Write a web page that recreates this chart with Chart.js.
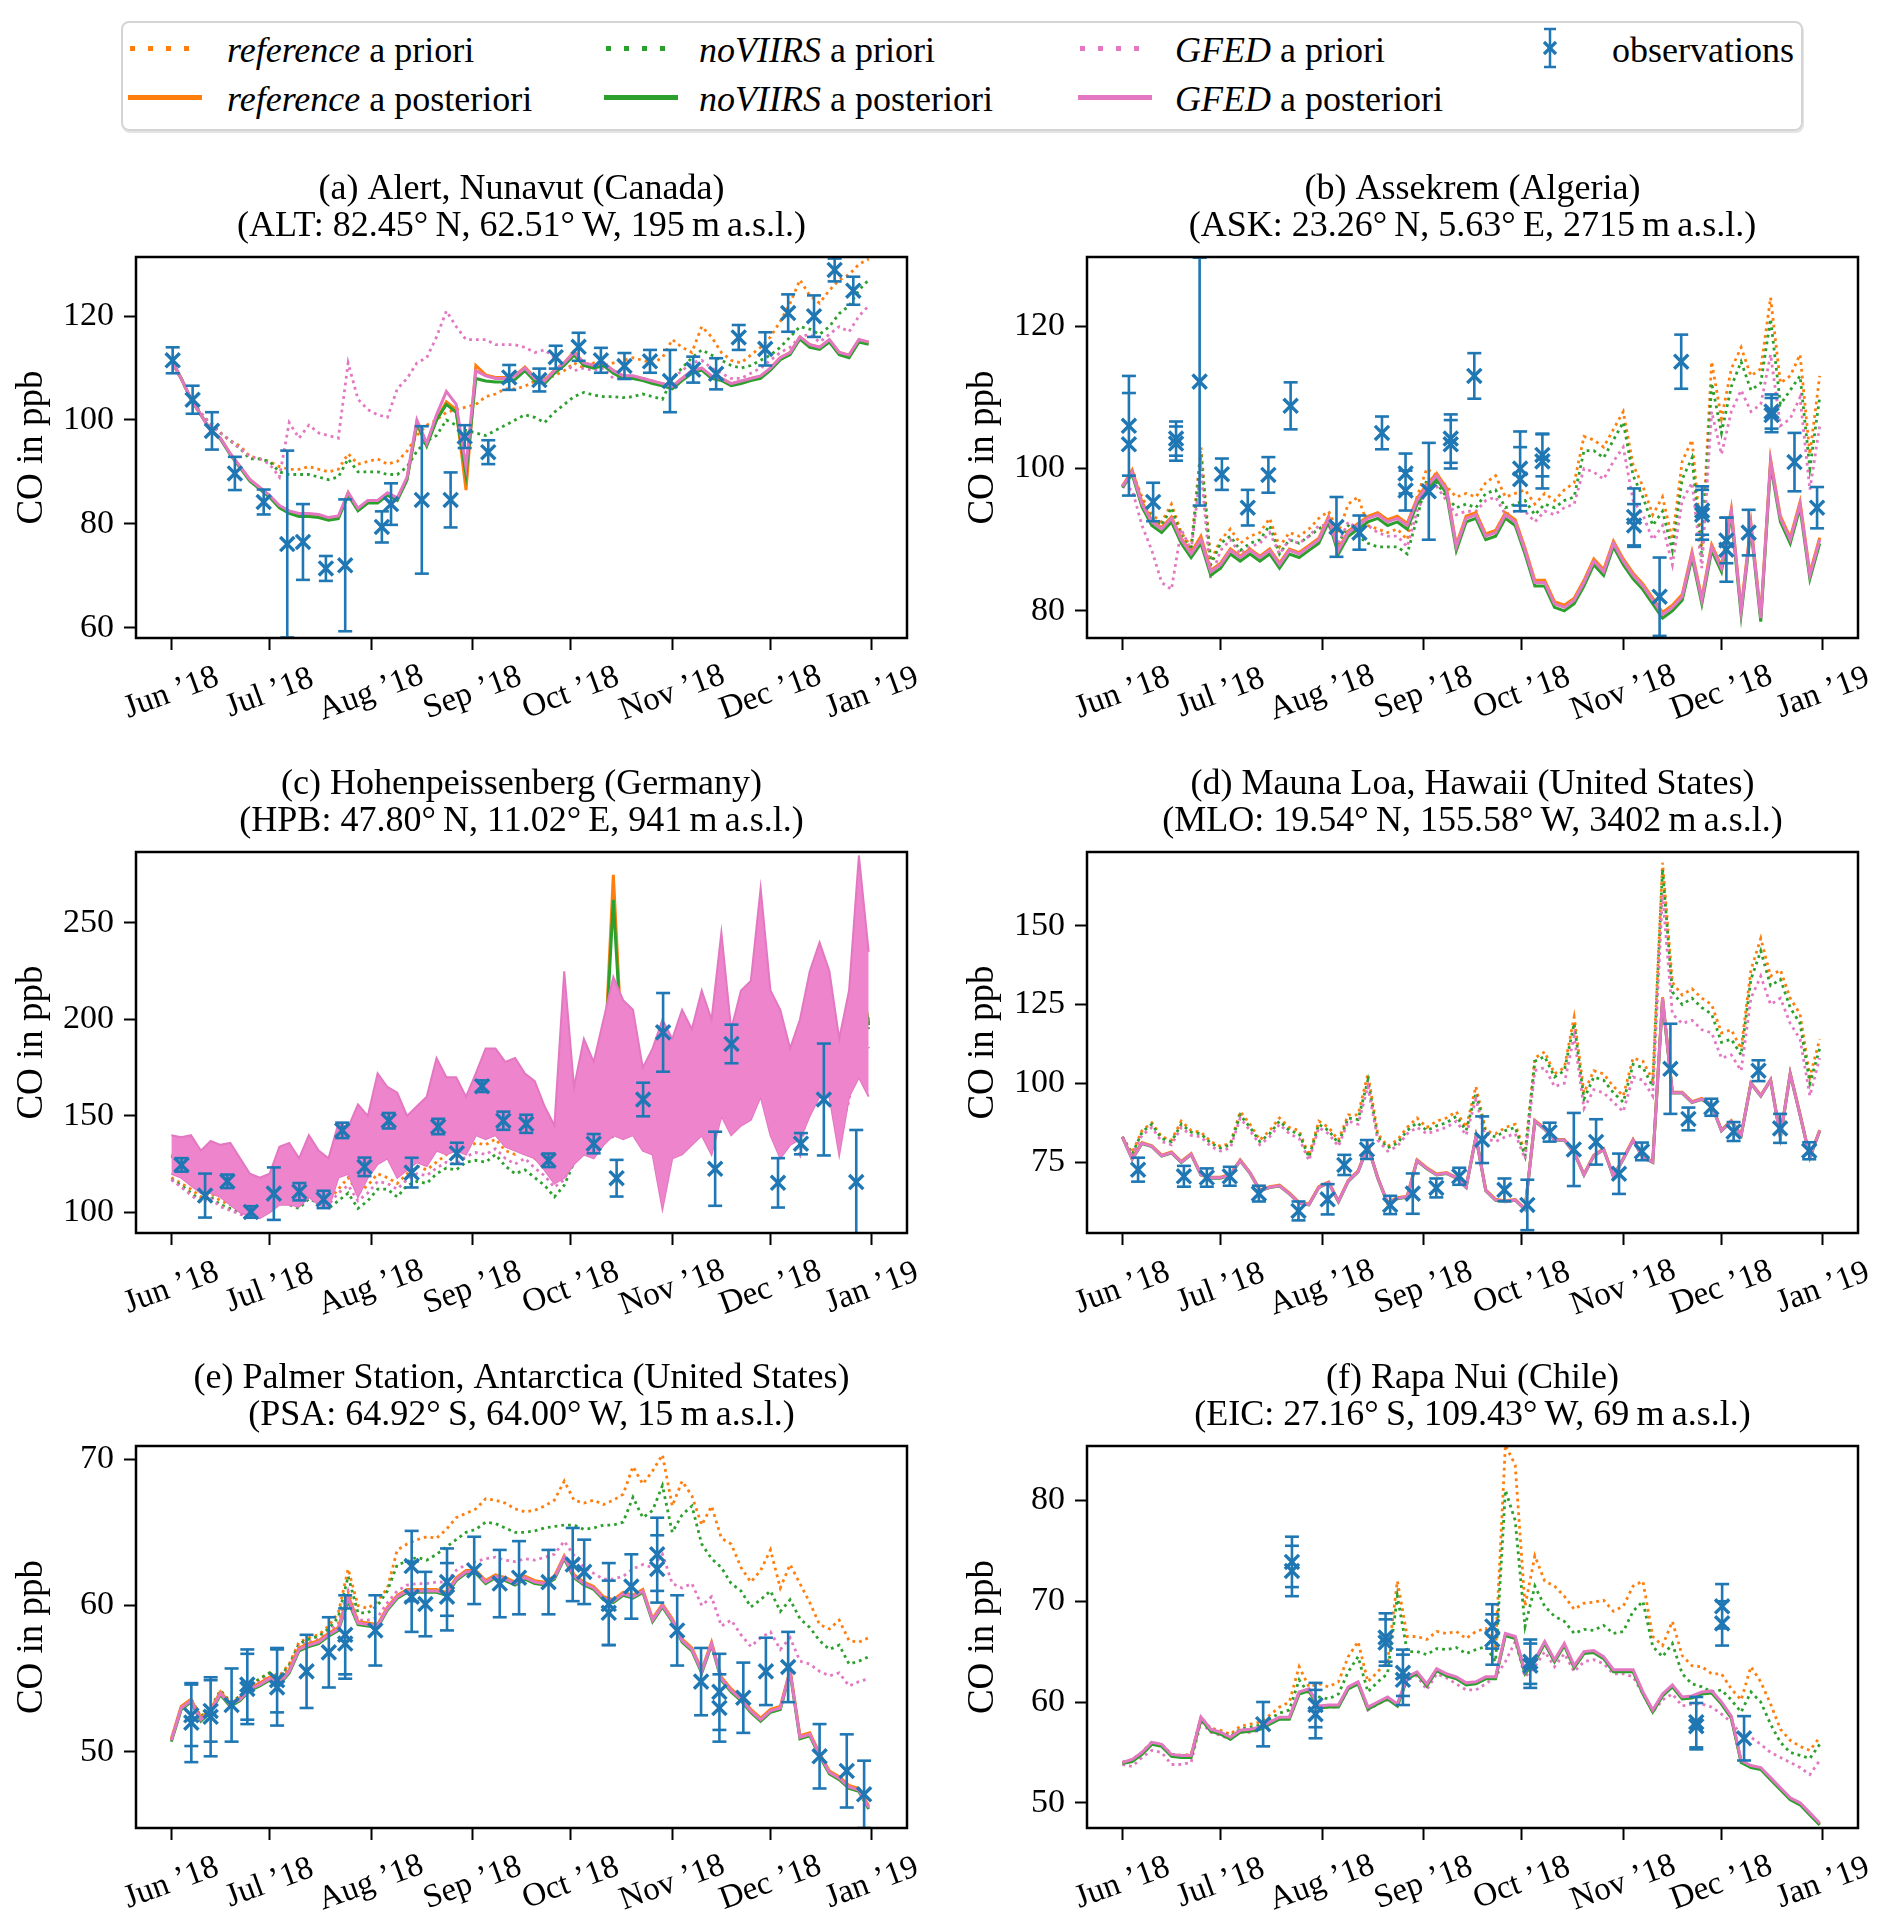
<!DOCTYPE html>
<html>
<head>
<meta charset="utf-8">
<script src="https://cdn.jsdelivr.net/npm/chart.js@4.4.1/dist/chart.umd.min.js"></script>
<style>
  body { margin: 0; width: 1892px; height: 1932px; background: #fff; position: relative; overflow: hidden; font-family: "Liberation Serif", serif; }
  canvas { position: absolute; }
  .lg { position: absolute; font-size: 36px; color: #000; transform: translateY(-50%); white-space: nowrap; line-height: 1; }
  .dot { position: absolute; height: 5px; margin-top: -2.5px; }
  .sol { position: absolute; height: 5px; margin-top: -2.5px; }
</style>
</head>
<body>

<div style="position:absolute;left:121px;top:21px;width:1682px;height:110px;border:2px solid #d4d4d4;border-radius:8px;box-sizing:border-box;box-shadow:1px 2px 0 #e4e4e4;"></div>

<div class="dot" style="left:130px;top:48px;width:72px;background:repeating-linear-gradient(to right,#ff7f0e 0 5px,transparent 5px 18px);"></div>
<div class="sol" style="left:128px;top:97px;width:74px;background:#ff7f0e;"></div>
<div class="lg" style="left:227px;top:50px;"><i>reference</i> a priori</div>
<div class="lg" style="left:227px;top:99px;"><i>reference</i> a posteriori</div>

<div class="dot" style="left:606px;top:48px;width:72px;background:repeating-linear-gradient(to right,#2ca02c 0 5px,transparent 5px 18px);"></div>
<div class="sol" style="left:604px;top:97px;width:74px;background:#2ca02c;"></div>
<div class="lg" style="left:699px;top:50px;"><i>noVIIRS</i> a priori</div>
<div class="lg" style="left:699px;top:99px;"><i>noVIIRS</i> a posteriori</div>

<div class="dot" style="left:1080px;top:48px;width:72px;background:repeating-linear-gradient(to right,#e377c2 0 5px,transparent 5px 18px);"></div>
<div class="sol" style="left:1078px;top:97px;width:74px;background:#e377c2;"></div>
<div class="lg" style="left:1175px;top:50px;"><i>GFED</i> a priori</div>
<div class="lg" style="left:1175px;top:99px;"><i>GFED</i> a posteriori</div>

<svg style="position:absolute;left:1538px;top:27px" width="24" height="42">
  <g stroke="#1f77b4" stroke-width="2.5" fill="none">
    <line x1="12" y1="2" x2="12" y2="40"/><line x1="6" y1="2" x2="18" y2="2"/><line x1="6" y1="40" x2="18" y2="40"/>
    <line x1="6" y1="15" x2="18" y2="27" stroke-width="3.2"/><line x1="18" y1="15" x2="6" y2="27" stroke-width="3.2"/>
  </g>
</svg>
<div class="lg" style="left:1612px;top:50px;">observations</div>

<canvas id="cA" width="946" height="593" style="left:0;top:140px"></canvas>
<canvas id="cB" width="941" height="593" style="left:951px;top:140px"></canvas>
<canvas id="cC" width="946" height="593" style="left:0;top:735px"></canvas>
<canvas id="cD" width="941" height="593" style="left:951px;top:735px"></canvas>
<canvas id="cE" width="946" height="594" style="left:0;top:1329px"></canvas>
<canvas id="cF" width="941" height="594" style="left:951px;top:1329px"></canvas>

<script>
// days since 1 Jun 2018, model output sampled every 3 days
const daysGrid = [0,3,6,9,12,15,18,21,24,27,30,33,
  36,39,42,45,48,51,54,57,60,63,66,69,
  72,75,78,81,84,87,90,93,96,99,102,105,
  108,111,114,117,120,123,126,129,132,135,138,141,
  144,147,150,153,156,159,162,165,168,171,174,177,
  180,183,186,189,192,195,198,201,204,207,210,213];
const monthDays = [0,30,61,92,122,153,183,214];
const monthLabels = ['Jun ’18','Jul ’18','Aug ’18','Sep ’18','Oct ’18','Nov ’18','Dec ’18','Jan ’19'];

// (a) Alert
const altRefPrior = [111.5,108,104,101,99,97.5,96,95,93,92.5,92,91,
  90.5,90.5,91,90.5,90,90.5,93.5,91.5,92,92.5,91.5,92,
  94,97,99,100,101.5,102,102.5,103,104.5,105,106,106,
  106.5,107.5,108,108.5,109.5,111,110,111,110.5,111,111.5,112,
  111.5,111,112,115.5,114,113,118,116,113,111.5,111,112.5,
  114,116,119,122.5,127,124,122.5,125,127,128,130,131];
const altRefPost = [111.5,108,104,101,98,96.5,93.5,91,88.5,87,85.3,83.3,
  82.2,81.7,81.7,81.5,81,81.2,86,82.8,84.3,84.3,85.8,84.8,
  88.8,99,95.5,100,103.5,102,86.5,110.5,108.7,108.2,108.2,108.6,
  110.2,108.2,107.6,109.6,111,113.2,111,110.5,111,109.5,108.5,108.4,
  108,107.4,107,106.4,108,109.4,110,108.4,108,107,107.4,108,
  108.4,110,112,113,116,114.5,114,115.4,113,112.5,115.4,115];
const altNovPrior = [111.5,108,104,101,99.5,97.5,96,94.5,92.5,92.5,92,90,
  89.5,89.5,89.5,89,88.5,89,92.5,90,90,90,89.5,89.5,
  91,94,96,97,100,99,98,97.5,97,98,99,100,
  101,100.5,99.5,101.5,103,104.5,105.3,104.8,104.5,104.5,104.3,104.5,
  105,104.5,104,108,110,112,113.5,112.5,111.5,110.5,110,110.5,
  111.5,112.5,114,116,118,117.5,116.5,118,120.5,122,125,127];
const altNovPost = [111.5,108,104,101,98,96.3,93.3,90.8,88.2,86.7,85.1,83.1,
  82,81.4,81.4,81.2,80.7,81,85.5,82.5,84,84,85.5,84.5,
  88.5,99.5,95,100,103,101.5,89.5,108,107.5,107.3,107.3,107.8,
  109.5,107.5,107,109,110.5,112.5,110.5,110,110.5,109,108,108,
  107.6,107,106.6,106,107.6,109,109.6,108,107.6,106.6,107,107.6,
  108,109.6,111.6,112.6,115.6,114,113.6,115,112.6,112,115,114.6];
const altGfedPrior = [111.5,108,104,101.5,99,97.5,96,94.5,93,92.5,91.5,89,
  99.5,96.5,99,97.5,97,96.5,111,104,102,101,100.5,106,
  108,111,112,116,121,118,115.5,115.5,115.5,114.5,114.5,114.5,
  114,113,113.5,112,111,109.5,110,109.5,110,108,108,108.5,
  108,107.5,106.5,108,109.5,111,111.5,110,109,108,108,109,
  110,111.5,113,114,116,116.5,115,116.5,118,117,120,122];
const altGfedPost = [111.5,108,104,101,98,96.5,93.5,91,88.5,87,85.5,83.5,
  82.5,82,82,81.8,81.2,81.5,86,83,84.5,84.5,86,85,
  89,100,95.5,101,105.5,103,91,109.5,108.5,108,108,108.5,
  110,108,107.5,109.5,111,113,111,110.5,111,109.5,108.5,108.5,
  108,107.5,107,106.5,108,109.5,110,108.5,108,107,107.5,108,
  108.5,110,112,113,116,114.5,114,115.5,113,112.5,115.5,115];
const altObsDay = [0.4,6.5,12.4,19.4,28.2,35.4,40.2,47.2,53.1,64.3,67.1,76.5,85.3,89.6,96.8,103.2,112.4,117.4,124.4,131.2,138.4,146.2,152.3,159.4,166.4,173.3,181.4,188.4,196.3,202.6,208.3];
const altObsVal = [111.5,103.9,97.9,89.7,84.2,76.1,76.5,71.4,72,79.4,83.8,84.6,84.6,96.8,93.8,108.2,107.7,112.1,114.1,111.5,110.4,111.3,107.5,109.7,108.9,115.9,113.7,120.6,120,128.9,124.9];
const altObsErr = [2.5,2.7,3.6,3.2,2.4,18,7.3,2.4,12.7,3,4,14.2,5.3,2.2,2.3,2.4,2.2,2.2,2.7,2.4,2.5,2.2,6,2.5,3,2.4,3.2,3.6,4,2.2,2.7];

// (b) Assekrem
const askRefPrior = [97.5,99.5,96,93.5,92.5,95,91,89,103,87,90,91.5,
  89.5,90.5,91,93,89,91,90.5,91.5,93,94,91,95,
  96,92,91.5,91,91.5,90,96,100,99,97.5,96,96.5,
  96,98,99,96,96.5,97,95,96.5,95.5,97,98,104.5,
  104,103,105.5,108,100.5,97.5,93.5,96,90,101,104,89,
  115,107,114,117,113,114,124,112,113,116,102,113];
const askRefPost = [97.5,99.8,95.3,92.7,91.7,93.2,90.2,88.2,90.5,85.7,86.7,88.7,
  87.7,88.7,87.7,88.7,86.7,88.7,88.2,89.2,90.2,93.3,88.7,91.2,
  92.3,93.3,93.8,92.8,93.3,92.3,95.8,97.8,99.3,97.3,89.3,93.3,
  93.8,90.8,91.3,93.8,92.8,88.8,84.3,84.3,81.3,80.8,81.8,84.3,
  87.3,85.8,89.8,87.3,85.3,83.8,81.8,79.8,80.8,82.3,88.3,81.8,
  89.3,86.3,94.3,80.3,92.3,79.3,101.3,93.3,90.3,95.3,85.3,90.3];
const askNovPrior = [97.5,99.5,95.5,93,92,94.5,90.5,88.5,102,86.5,89.5,90.5,
  88.5,89.5,90,92,88,90,89.5,90.5,91.5,92.5,89.5,92,
  90.5,89.5,89,89,89,88,93,98.5,98,96,94.5,95,
  94.5,96.5,97,94.5,95,95.5,93.5,95,94.5,95.5,96,102.5,
  102.5,101.5,104,106.5,99,96,92,94,88.5,98.5,101.5,87.5,
  112,105,111.5,115,111,112,121,109,111,113,100,110];
const askNovPost = [97.3,99.2,94.6,92,91,92.5,89.5,87.5,89.5,85,86,88,
  87,88,87,88,86,88,87.5,88.5,89.5,92.5,88,90.5,
  91.5,92.5,93,92,92.5,91.5,95,97,98.5,96.5,88.5,92.5,
  93,90,90.5,93,92,88,83.5,83.5,80.5,80,81,83.5,
  86.5,85,89,86.5,84.5,83,81,79,80,81.5,87.5,81,
  88.5,85.5,93.5,79.5,91.5,78.5,100.5,92.5,89.5,94.5,84.5,89.5];
const askGfedPrior = [97.5,97,92,88.5,84,83,91.5,88.5,100,84.5,88.5,90,
  88,89,89.5,91,88,90,89.5,90.5,92,92,89.5,92.5,
  91.5,92,91,90.5,90.5,89,94,97,97.5,95.5,93.5,94,
  94,95.5,96,93.5,94,94,92.5,94,93.5,94.5,95,100,
  99.5,98.5,101,103,95.5,93.5,90,92,86.5,95.5,98,86,
  108,102,108,111,108,109,116,106,107,110,97,106];
const askGfedPost = [97.5,99.5,95,92.5,91.5,93,90,88,90,85.5,86.5,88.5,
  87.5,88.5,87.5,88.5,86.5,88.5,88,89,90,93,88.5,91,
  92,93,93.5,92.5,93,92,95.5,97.5,99,97,89,93,
  93.5,90.5,91,93.5,92.5,88.5,84,84,81,80.5,81.5,84,
  87,85.5,89.5,87,85,83.5,81.5,79.5,80.5,82,88,81.5,
  89,86,94,80,92,79,101,93,90,95,85,90];
const askObsDay = [2,2,9.4,16.4,16.4,23.6,30.4,38.3,44.6,51.4,65.4,72.4,79.3,86.5,86.5,93.6,100.3,100.3,107.5,121.5,121.5,128.3,128.3,156.3,156.3,164.1,170.7,177.1,177.1,184.5,184.5,191.3,198.3,198.3,205.3,212.2];
const askObsVal = [106,103.4,95.3,104.2,103.5,112.2,99.2,94.5,99.1,108.8,91.8,91,105,99.3,96.9,96.8,104.2,103.4,113,100,98.5,101,101.9,93.2,92,82,115,94.1,93.5,88.6,89.9,91,108,107.5,100.9,94.5];
const askObsErr = [7,7.2,2.7,2.4,2.4,17.4,2.2,2.5,2.5,3.3,4.2,2.4,2.3,2.8,2.8,6.8,3.4,3.4,3.2,5.2,4.5,3.8,3,4,3,5.5,3.8,3.4,3.5,4.5,3.2,3.2,2.4,2.4,4.1,2.9];

// (c) Hohenpeissenberg (GFED a posteriori drawn as the envelope of its diurnal cycle)
const hpbRefPrior = [118,115,112,108,110,106,104,102,100,101,104,108,
  106,104,110,108,106,112,118,110,114,120,118,115,
  120,124,122,126,130,128,133,136,135,138,132,130,
  133,128,124,118,122,135,142,140,165,150,165,152,
  145,150,130,148,152,160,155,150,175,160,165,170,
  190,165,145,150,140,175,200,185,150,170,215,200];
const hpbRefPost = [130,128,126,121,123,121,120,114,109,107,110,119,
  120,115,124,118,115,132,132,132,134,148,146,140,
  136,140,142,156,150,151,145,156,161,162,156,156,
  151,148,138,130,170,145,160,153,167,275,174,172,
  154,158,151,159,168,165,178,165,198,168,180,184,
  214,178,166,160,169,188,200,192,160,188,228,198];
const hpbNovPrior = [117,114,110,106,108,104,102,100,98,99,102,106,
  104,102,107,105,102,106,110,102,106,112,112,108,
  114,116,115,120,123,122,126,127,126,130,124,120,
  122,118,114,108,114,126,135,134,160,145,160,150,
  140,146,125,142,148,155,150,145,170,155,160,165,
  185,160,140,145,135,170,195,180,145,165,210,195];
const hpbNovPost = [129,127,125,120,122,120,119,113,108,106,109,118,
  119,114,123,117,114,131,131,131,133,147,145,139,
  135,139,141,155,149,150,144,155,160,161,155,155,
  150,147,137,129,169,144,159,152,166,262,173,171,
  153,157,150,158,167,164,177,164,197,167,179,183,
  213,177,165,159,168,187,199,191,159,187,227,197];
const hpbGfedPrior = [117,113,109,105,107,103,101,99,98,99,102,106,
  104,103,108,106,104,110,114,106,110,116,115,112,
  117,120,119,123,126,125,129,131,130,133,128,125,
  128,123,119,113,117,128,134,132,155,138,150,140,
  134,140,120,135,140,148,143,138,162,148,152,158,
  178,152,134,140,130,162,185,172,140,158,200,185];
const hpbGfedPostHi = [140,139,140,132,137,135,136,128,120,118,120,134,
  136,128,140,132,128,146,144,156,150,172,165,162,
  150,155,160,180,170,170,160,172,185,185,178,180,
  172,168,155,145,225,165,190,178,200,222,210,205,
  175,185,200,190,205,195,215,200,245,195,215,220,
  268,215,205,185,200,225,240,225,190,215,285,235];
const hpbGfedPostLo = [120,118,114,110,110,108,104,100,98,97,100,104,
  104,103,108,104,102,118,120,108,118,125,128,118,
  122,126,124,132,130,132,130,140,138,140,134,132,
  130,128,122,115,118,125,130,128,135,140,138,140,
  132,130,102,128,130,135,140,130,150,140,145,148,
  160,140,128,135,138,150,160,160,130,160,170,160];
const hpbObsDay = [3.1,10.3,17.1,24.3,31.3,39.1,46.5,52.2,59,66.4,73.4,81.5,87.2,94.9,101.4,108.4,115.2,129,136,144.1,150.2,166.1,171.1,185.3,192.3,199.3,209.2];
const hpbObsVal = [124.6,108.7,116.1,100.2,109.7,110.7,106.7,142.5,123.6,147.5,120.6,144.5,130.6,165.4,147.5,145.9,127,135.6,117.7,158.5,193.3,122.6,187.3,115.3,135.6,158.5,115.7];
const hpbObsErr = [3.5,11.4,3.5,3,13.6,4.5,4.5,4,4.8,4,7.7,4,5.5,3,4.7,4.7,3.5,5,9.5,8.7,20.4,19.2,10,12.8,5.5,29,27];

// (d) Mauna Loa
const mloRefPrior = [83,78,85,87.5,83,82,88,85,84.5,81.5,80,81,
  91,87,82,85,89,86,85,77,88,86,82,90,
  90,103,84,80,82,86,89,86,88,89,91,86,
  99,85,84,86,87,78,108,110,103,105,121,97,
  104,103,99,96,108,107,101,170,132,128,130,127,
  125,116,117,111,136,146,134,136,127,122,102,114];
const mloRefPost = [83,76.2,81.2,80.2,77.2,78.2,75.2,77.7,71.2,70.2,70.2,71.2,
  75.7,71.7,66.2,67.2,67.7,65.2,62.2,61.7,67.2,68.7,62.7,69.2,
  72.2,80.2,70.2,62.2,63.7,64.2,75.7,73.2,71.2,71.7,70.2,67.2,
  83.2,66.2,63.2,62.7,63.2,60.2,88.2,85.7,82.2,82.2,78.2,71.2,
  77.2,79.2,70.7,76.2,82.2,76.7,75.2,127.3,97.2,97.2,94.2,95.2,
  93.2,85.2,88.2,83.7,100.2,96.2,101.2,83.2,103.2,90.2,76.7,85.2];
const mloNovPrior = [83,77.5,84.5,87,82.5,81.5,87,84.5,84,81,79.5,80.5,
  90,86,81.5,84,88,85,84,76.5,87,85,81,89,
  88.5,101,83,79.5,81,85,87.5,85,86.5,87.5,89.5,85,
  97,84,83,85,86,77,107,108.5,102,104,119,95,
  102,101,97,94,106,105,99,168,129,125,127,124,
  122,113,114,109,133,142,131,133,124,119,100,111];
const mloNovPost = [83,75.9,80.9,79.9,76.9,77.9,74.9,77.4,70.9,69.9,69.9,70.9,
  75.4,71.4,65.9,66.9,67.4,64.9,61.9,61.4,66.9,68.4,62.4,68.9,
  71.9,79.9,69.9,61.9,63.4,63.9,75.4,72.9,70.9,71.4,69.9,66.9,
  82.9,65.9,62.9,62.4,62.9,59.9,87.9,85.4,81.9,81.9,77.9,70.9,
  76.9,78.9,70.4,75.9,81.9,76.4,74.9,126.5,96.9,96.9,93.9,94.9,
  92.9,84.9,87.9,83.4,99.9,95.9,100.9,82.9,102.9,89.9,76.4,84.9];
const mloGfedPrior = [83,77,83.5,86,81.5,80.5,86,83.5,83,80,78.5,79.5,
  89,85,80.5,83,87,84,82.5,75.5,86,84,80,88,
  87,99,82,78.5,80,84,86,84,85,86,88,83.5,
  95,82.5,81.5,83,84,76,104,105,99,100,115,92,
  98,97,94,91,102,101,96,160,122,119,120,117,
  116,108,109,104,127,134,125,127,119,114,96,108];
const mloGfedPost = [83,76,81,80,77,78,75,77.5,71,70,70,71,
  75.5,71.5,66,67,67.5,65,62,61.5,67,68.5,62.5,69,
  72,80,70,62,63.5,64,75.5,73,71,71.5,70,67,
  83,66,63,62.5,63,60,88,85.5,82,82,78,71,
  77,79,70.5,76,82,76.5,75,127,97,97,94,95,
  93,85,88,83.5,100,96,101,83,103,90,76.5,85];
const mloObsDay = [4.8,18.8,25.8,32.8,41.7,53.8,62.7,67.8,74.7,81.8,88.7,95.9,102.9,109.9,116.7,123.7,130.5,137.9,144.7,151.7,158.7,167.4,172.9,179.9,186.7,194.3,200.9,209.8];
const mloObsVal = [72.6,70.5,70.1,70.5,65,59.5,63.2,74.1,79,61.4,65,66.8,70.5,82.1,66.2,61.4,84.5,79,81.4,71.3,78.4,104.6,88.7,92.4,84.7,104,85.7,78.6];
const mloObsErr = [3.8,3.3,2.9,3,2.5,3,4.8,3.2,3,2.9,6.4,3,2.7,7.4,3.6,8,3,11.6,7.2,6.4,2.8,14.3,3.6,2.7,3,3.3,4.6,2.7];

// (e) Palmer Station
const psaRefPrior = [50.8,53,53.6,52.4,53,54.2,53.4,53.8,54.5,55,55.4,55.2,
  56,57.5,57.8,58,58.6,59.5,62.5,60,59.8,60.3,61.2,63.8,
  64.2,64.5,64.7,64.6,65.2,66,66.3,66.6,67.3,67.2,67,66.6,
  66.4,66.5,66.8,67.2,68.5,67.2,67,67.2,66.9,67.2,67.6,69.5,
  68.3,69.2,70.3,66.8,68.5,67.5,65.5,66.8,64.6,64.2,62.6,61.6,
  62.4,63.8,61.2,62.8,61.5,60.2,58.7,58.4,59,57.6,57.5,57.8];
const psaRefPost = [50.9,53.1,53.6,52.3,52.9,54.1,53.3,53.7,54.4,54.7,55.1,54.8,
  55.6,57.1,57.4,57.6,58.1,58.5,60.7,58.9,58.8,58.7,59.9,60.7,
  61.1,61.1,61.1,61.1,60.9,61.9,62.4,62.4,61.7,62.1,61.9,61.6,
  62,61.7,61.6,62,63.4,62.1,61.6,61.3,60.6,60.4,60.9,60.7,
  61.1,59.1,60.1,59.1,57.7,57.1,55.6,57.5,55.1,54.3,53.7,52.9,
  52.3,52.9,53.1,55.6,51.1,51.3,49.9,48.7,48.3,47.7,47.5,46.3];
const psaNovPrior = [50.8,53,53.6,52.4,53,54.2,53.4,53.8,54.5,55,55.4,55.1,
  55.9,57.4,57.7,57.9,58.4,59.2,62,59.5,59.5,60,61,62.8,
  63,63.3,63.1,63.5,64,64.5,65,65.2,65.7,65.6,65.3,65,
  65,65.1,65.3,65.4,65.5,65.5,65.2,65.3,65.5,65.5,65.7,67.4,
  66,66.5,68.2,65,66.2,66.8,64.2,63.2,62.6,61.5,61,59.9,
  60.4,61,59.6,60.4,59.1,58.5,57.6,57,57.3,56,56.2,56.5];
const psaNovPost = [50.7,52.9,53.4,52.1,52.7,53.9,53.1,53.5,54.2,54.5,54.9,54.6,
  55.4,56.9,57.2,57.4,57.9,58.3,60.3,58.7,58.6,58.5,59.7,60.5,
  60.9,60.9,60.9,60.9,60.7,61.7,62.2,62.2,61.5,61.9,61.7,61.4,
  61.8,61.5,61.4,61.8,63.2,61.9,61.4,61.1,60.4,60.2,60.7,60.5,
  60.9,58.9,59.9,58.9,57.5,56.9,55.4,57.3,54.9,54.1,53.5,52.7,
  52.1,52.7,52.9,55.4,50.9,51.1,49.7,48.5,48.1,47.5,47.3,46.1];
const psaGfedPrior = [50.8,53,53.5,52.3,52.9,54.1,53.3,53.7,54.4,54.8,55.2,54.9,
  55.7,57.2,57.5,57.7,58.2,58.8,61,59,59,59.2,60.2,61,
  61.4,61.5,61.5,61.6,61.6,62.4,62.8,63,63.2,63.3,63.1,63,
  63.2,63.1,63.3,63.5,64.4,63.4,62.6,62.2,61.8,61.8,62,62.5,
  62.8,62.6,63.5,61.5,61.2,61.5,60,60.6,58.6,59,58,57.2,
  57.8,58.2,57,57.8,56.2,56,55.5,55.2,55.4,54.5,54.8,55];
const psaGfedPost = [50.8,53,53.5,52.2,52.8,54,53.2,53.6,54.3,54.6,55,54.7,
  55.5,57,57.3,57.5,58,58.4,60.5,58.8,58.7,58.6,59.8,60.6,
  61,61,61,61,60.8,61.8,62.3,62.3,61.6,62,61.8,61.5,
  61.9,61.6,61.5,61.9,63.3,62,61.5,61.2,60.5,60.3,60.8,60.6,
  61,59,60,59,57.6,57,55.5,57.4,55,54.2,53.6,52.8,
  52.2,52.8,53,55.5,51,51.2,49.8,48.6,48.2,47.6,47.4,46.2];
const psaObsDay = [6.1,6.1,12,12,18.4,23.2,23.2,32.3,32.3,41.3,48.1,53.1,53.1,62.3,73.4,73.4,77.6,84.2,84.2,92.5,100.3,106.2,115.2,122.6,126.1,133.6,133.6,140.5,148.4,148.4,154.5,161.8,167.4,167.4,174.7,181.6,188.4,198,206.3,211.6];
const psaObsVal = [52,52.5,52.4,52.8,53.2,54.6,54.3,54.4,54.9,55.5,56.8,58,57.4,58.3,62.7,60.6,60.1,61.6,60.6,62.4,61.5,61.9,61.6,62.8,62.3,60.1,59.5,61.3,63.5,62.5,58.3,54.8,54.1,53,53.7,55.5,55.8,49.7,48.7,47.1];
const psaObsErr = [2.7,2.1,2.7,2.1,2.5,2.4,2.4,2.6,2.2,2.5,2.4,2.7,2.4,2.4,2.4,2.4,2.2,2.3,2.3,2.3,2.3,2.5,2.2,2.5,2.2,2.8,2.2,2.2,2.5,2.3,2.4,2.3,2.6,2.3,2.4,2.3,2.4,2.2,2.5,2.3];

// (f) Rapa Nui
const eicRefPrior = [54,54.3,55,56,55.8,54.8,54.7,54.8,58.5,57.4,57.2,56.8,
  57.6,57.8,58,58.7,59.5,60,63.5,61.5,61.8,61.5,62,64.5,
  66,62,63,64,72,66.5,66.5,66.2,67,66.8,67,66.3,
  67,67.3,65.5,85.5,83.5,69.5,74.5,72,71.5,70.5,69.2,69.8,
  69.9,70.1,69,69.5,71.5,72,66.5,65.6,68,64.6,63.6,63.5,
  62.8,62.8,61.3,60.2,63.5,62,59.8,57.3,56.2,55.6,55.2,56.5];
const eicRefPost = [54,54.2,54.9,55.9,55.7,54.7,54.6,54.6,58.4,57.2,56.9,56.4,
  57.1,57.2,57.4,57.9,58.4,58.4,60.9,61.2,59.5,59.6,59.6,61.4,
  61.9,59.4,59.9,60.4,59.7,62.4,62.9,61.7,63.2,62.7,62.4,61.8,
  61.9,62.4,62.4,66.7,66.4,62.9,64.1,65.9,64.1,65.7,63.5,64.9,
  65,64.4,63.1,63.1,63.1,60.9,59.1,60.7,61.6,60.4,60.5,60.9,
  61,59.9,58.5,54.1,53.6,53.4,52.4,51.4,50.4,49.9,48.9,47.9];
const eicNovPrior = [54,54.2,55,56,55.8,54.8,54.7,54.7,58.4,57.3,57,56.6,
  57.3,57.5,57.7,58.3,58.9,59.2,62.2,60.8,60.5,60.3,60.8,63,
  64.5,61,62,62.8,70.5,65,65,64.7,65.3,65.2,65.4,64.8,
  65.2,65.5,64,81,78,67.5,71.5,69.5,68.5,68,66.8,67.2,
  67.1,67.6,66.8,67,69,70,65.5,64.5,65.8,62.8,61.8,61.5,
  61,61.2,60.2,59,61,60,57.8,56,55,54.7,54.4,55.8];
const eicNovPost = [53.9,54.1,54.8,55.8,55.6,54.6,54.5,54.5,58.3,57.1,56.8,56.3,
  57,57.1,57.3,57.8,58.3,58.3,60.8,61.1,59.4,59.5,59.5,61.3,
  61.8,59.3,59.8,60.3,59.6,62.3,62.8,61.6,63.1,62.6,62.3,61.7,
  61.8,62.3,62.3,66.6,66.3,62.8,64,65.8,64,65.6,63.4,64.8,
  64.9,64.3,63,63,63,60.8,59,60.6,61.5,60.3,60.4,60.8,
  60.9,59.8,58.4,54,53.5,53.3,52.3,51.3,50.3,49.8,48.8,47.8];
const eicGfedPrior = [53.8,53.6,54.5,55.2,55,53.8,53.8,54,58,57,56.7,56.3,
  57,57,57.2,57.8,58.3,58.4,61,61,59.4,59.5,59.5,61.3,
  62,59.2,59.8,60.2,59.8,62.2,62.6,61.2,62.8,62.4,61.8,61.2,
  61.2,61.8,62.5,64,66,62.5,63.5,65,63.5,64.8,63,64,
  64.2,63.8,62.8,62.8,62.5,60.8,59,60.2,60.8,59.6,59.8,59.8,
  59.5,58.8,58,56.8,56.5,55.8,55,54.5,54,53.5,52.8,54.2];
const eicGfedPost = [54,54.3,55,56,55.8,54.8,54.7,54.7,58.5,57.3,57,56.5,
  57.2,57.3,57.5,58,58.5,58.5,61,61.3,59.6,59.7,59.7,61.5,
  62,59.5,60,60.5,59.8,62.5,63,61.8,63.3,62.8,62.5,61.9,
  62,62.5,62.5,66.8,66.5,63,64.2,66,64.2,65.8,63.6,65,
  65.1,64.5,63.2,63.2,63.2,61,59.2,60.8,61.7,60.5,60.6,61,
  61.1,60,58.6,54.2,53.7,53.5,52.5,51.5,50.5,50,49,48];
const eicObsDay = [43,51.8,51.8,59,59,80.4,80.4,85.7,85.7,113,113,124.6,124.6,175.3,175.3,183.2,183.2,189.9];
const eicObsVal = [57.8,73.9,73,59.7,58.8,66.4,65.9,62.9,62.2,67.5,66.2,64,63.6,58,57.6,69.5,67.8,56.4];
const eicObsErr = [2.2,2.5,2.5,2.2,2.4,2.4,2.3,2.3,2.5,2.2,2.5,2.2,2.2,2.5,2.3,2.2,2.2,2.2];

const ORANGE = '#ff7f0e', GREEN = '#2ca02c', PINK = '#e377c2', BLUE = '#1f77b4';
const FONT = '"Liberation Serif", serif';
Chart.defaults.font.family = FONT;
Chart.defaults.color = '#000';

const frame = {
  id: 'frame',
  afterDatasetsDraw(chart) {
    const a = chart.chartArea, ctx = chart.ctx;
    ctx.save();
    ctx.strokeStyle = '#000';
    ctx.lineWidth = 2.5;
    ctx.strokeRect(a.left, a.top, a.right - a.left, a.bottom - a.top);
    ctx.restore();
  }
};

// panel title above the axes and centred, rotated month labels
const panelText = {
  id: 'panelText',
  afterDraw(chart, args, opts) {
    const a = chart.chartArea, ctx = chart.ctx, xs = chart.scales.x;
    ctx.save();
    ctx.fillStyle = '#000';
    ctx.textAlign = 'center';
    ctx.textBaseline = 'middle';
    ctx.font = '36px ' + FONT;
    const mid = (a.left + a.right) / 2;
    ctx.fillText(opts.title[0], mid, a.top - 67);
    ctx.fillText(opts.title[1], mid, a.top - 30);
    ctx.font = '33px ' + FONT;
    monthDays.forEach((d, i) => {
      ctx.save();
      ctx.translate(xs.getPixelForValue(d), a.bottom + 55);
      ctx.rotate(-20 * Math.PI / 180);
      ctx.fillText(monthLabels[i], 0, 0);
      ctx.restore();
    });
    ctx.restore();
  }
};

function makePanel(id, p) {
  const pts = vals => daysGrid.map((d, i) => ({x: d, y: vals[i]}));
  const line = (vals, color, dotted, order) => ({
    data: pts(vals), borderColor: color, borderWidth: dotted ? 2.8 : 3,
    borderDash: dotted ? [2.8, 4] : [], pointRadius: 0, fill: false, order: order, clip: 0
  });

  const bars = [], caps = [], marks = [];
  p.obsDay.forEach((d, i) => {
    const lo = p.obsVal[i] - p.obsErr[i];
    const hi = p.obsVal[i] + p.obsErr[i];
    bars.push({x: d, y: lo}, {x: d, y: hi}, {x: d, y: null});
    caps.push({x: d, y: lo}, {x: d, y: hi});
    marks.push({x: d, y: p.obsVal[i]});
  });

  const datasets = [
    line(p.refPrior, ORANGE, true, 6),
    line(p.novPrior, GREEN, true, 5),
    line(p.gfedPrior, PINK, true, 4),
    line(p.refPost, ORANGE, false, 3),
    line(p.novPost, GREEN, false, 2)
  ];
  if (p.gfedPostHi) {
    datasets.push({data: pts(p.gfedPostHi), borderColor: PINK, borderWidth: 2, pointRadius: 0,
      backgroundColor: '#ee84cb', fill: '+1', order: 1, clip: 0});
    datasets.push({data: pts(p.gfedPostLo), borderColor: PINK, borderWidth: 2, pointRadius: 0,
      fill: false, order: 1, clip: 0});
  } else {
    datasets.push(line(p.gfedPost, PINK, false, 1));
  }
  datasets.push(
    {data: bars, borderColor: BLUE, borderWidth: 2.6, pointRadius: 0, spanGaps: false, order: 0, clip: 0},
    {data: caps, showLine: false, pointStyle: 'line', pointRadius: 7, pointBorderColor: BLUE,
      pointBorderWidth: 2.6, order: 0, clip: 0},
    {data: marks, showLine: false, pointStyle: 'crossRot', pointRadius: 10, pointBorderColor: BLUE,
      pointBorderWidth: 3.4, order: 0, clip: 0}
  );

  new Chart(document.getElementById(id), {
    type: 'line',
    data: {datasets: datasets},
    plugins: [frame, panelText],
    options: {
      responsive: false,
      animation: false,
      events: [],
      layout: {padding: {top: 117, right: p.right, left: 0, bottom: 0}},
      plugins: {legend: {display: false}, tooltip: {enabled: false}, panelText: {title: p.title}},
      scales: {
        x: {
          type: 'linear', min: -10.8, max: 224.7,
          afterBuildTicks: s => { s.ticks = monthDays.map(v => ({value: v})); },
          afterFit: s => { s.height = 95; },
          ticks: {display: false},
          grid: {drawOnChartArea: false, drawTicks: true, tickLength: 12, tickWidth: 2, tickColor: '#000'},
          border: {display: false}
        },
        y: {
          min: p.yMin, max: p.yMax,
          afterBuildTicks: s => { s.ticks = p.yTicks.map(v => ({value: v})); },
          afterFit: s => { s.width = 136; },
          ticks: {font: {size: 34}, color: '#000', padding: 10},
          grid: {drawOnChartArea: false, drawTicks: true, tickLength: 12, tickWidth: 2, tickColor: '#000'},
          border: {display: false},
          title: {display: true, text: 'CO in ppb', font: {size: 37}, color: '#000', padding: {top: 10, bottom: 0}}
        }
      }
    }
  });
}

makePanel('cA', {
  title: ['(a) Alert, Nunavut (Canada)', '(ALT: 82.45°\u2009N, 62.51°\u2009W, 195\u2009m\u2009a.s.l.)'],
  yMin: 58, yMax: 131.4, yTicks: [60, 80, 100, 120], right: 39,
  refPrior: altRefPrior, refPost: altRefPost, novPrior: altNovPrior, novPost: altNovPost,
  gfedPrior: altGfedPrior, gfedPost: altGfedPost,
  obsDay: altObsDay, obsVal: altObsVal, obsErr: altObsErr
});
makePanel('cB', {
  title: ['(b) Assekrem (Algeria)', '(ASK: 23.26°\u2009N, 5.63°\u2009E, 2715\u2009m\u2009a.s.l.)'],
  yMin: 76.2, yMax: 129.7, yTicks: [80, 100, 120], right: 34,
  refPrior: askRefPrior, refPost: askRefPost, novPrior: askNovPrior, novPost: askNovPost,
  gfedPrior: askGfedPrior, gfedPost: askGfedPost,
  obsDay: askObsDay, obsVal: askObsVal, obsErr: askObsErr
});
makePanel('cC', {
  title: ['(c) Hohenpeissenberg (Germany)', '(HPB: 47.80°\u2009N, 11.02°\u2009E, 941\u2009m\u2009a.s.l.)'],
  yMin: 89.3, yMax: 286.8, yTicks: [100, 150, 200, 250], right: 39,
  refPrior: hpbRefPrior, refPost: hpbRefPost, novPrior: hpbNovPrior, novPost: hpbNovPost,
  gfedPrior: hpbGfedPrior, gfedPostHi: hpbGfedPostHi, gfedPostLo: hpbGfedPostLo,
  obsDay: hpbObsDay, obsVal: hpbObsVal, obsErr: hpbObsErr
});
makePanel('cD', {
  title: ['(d) Mauna Loa, Hawaii (United States)', '(MLO: 19.54°\u2009N, 155.58°\u2009W, 3402\u2009m\u2009a.s.l.)'],
  yMin: 52.5, yMax: 173.4, yTicks: [75, 100, 125, 150], right: 34,
  refPrior: mloRefPrior, refPost: mloRefPost, novPrior: mloNovPrior, novPost: mloNovPost,
  gfedPrior: mloGfedPrior, gfedPost: mloGfedPost,
  obsDay: mloObsDay, obsVal: mloObsVal, obsErr: mloObsErr
});
makePanel('cE', {
  title: ['(e) Palmer Station, Antarctica (United States)', '(PSA: 64.92°\u2009S, 64.00°\u2009W, 15\u2009m\u2009a.s.l.)'],
  yMin: 44.8, yMax: 70.9, yTicks: [50, 60, 70], right: 39,
  refPrior: psaRefPrior, refPost: psaRefPost, novPrior: psaNovPrior, novPost: psaNovPost,
  gfedPrior: psaGfedPrior, gfedPost: psaGfedPost,
  obsDay: psaObsDay, obsVal: psaObsVal, obsErr: psaObsErr
});
makePanel('cF', {
  title: ['(f) Rapa Nui (Chile)', '(EIC: 27.16°\u2009S, 109.43°\u2009W, 69\u2009m\u2009a.s.l.)'],
  yMin: 47.5, yMax: 85.4, yTicks: [50, 60, 70, 80], right: 34,
  refPrior: eicRefPrior, refPost: eicRefPost, novPrior: eicNovPrior, novPost: eicNovPost,
  gfedPrior: eicGfedPrior, gfedPost: eicGfedPost,
  obsDay: eicObsDay, obsVal: eicObsVal, obsErr: eicObsErr
});
</script>
</body>
</html>
